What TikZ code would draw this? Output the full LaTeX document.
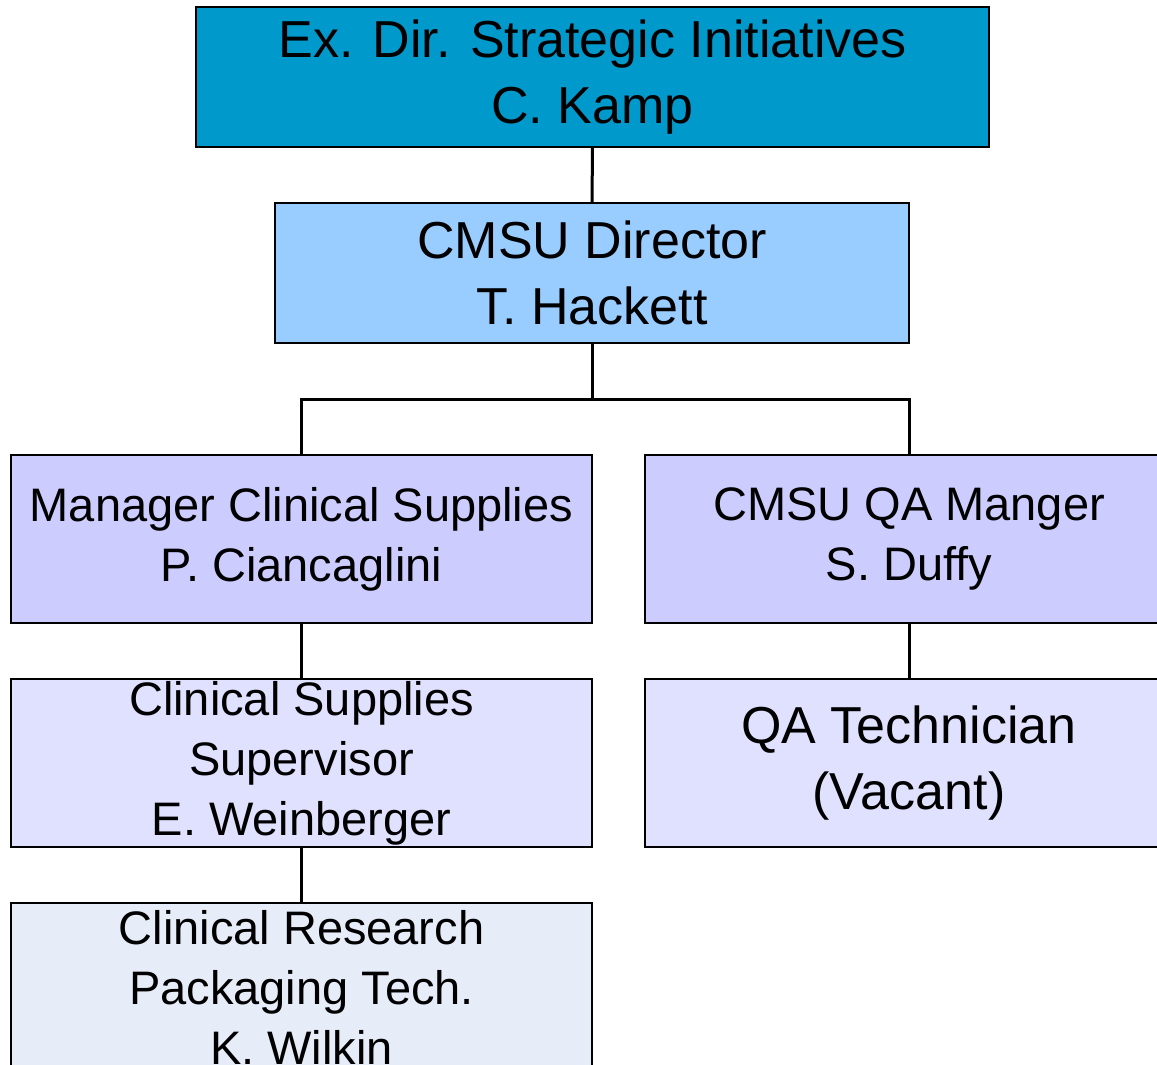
\documentclass[tikz,border=0pt]{standalone}
\usepackage{fontspec}
\setmainfont{Liberation Sans}
\definecolor{ctop}{HTML}{0099CC}
\definecolor{cdir}{HTML}{99CCFF}
\definecolor{cmgr}{HTML}{CCCCFF}
\definecolor{csup}{HTML}{E0E0FF}
\definecolor{cres}{HTML}{E6ECF8}
\tikzset{
  box/.style={draw=black, line width=1.2pt, align=center, inner sep=0pt},
  link/.style={line width=3pt},
  big/.style={font=\fontsize{52}{66}\selectfont},
  mid/.style={font=\fontsize{47}{60}\selectfont},
}
\begin{document}
\begin{tikzpicture}[x=1pt,y=-1pt]
\useasboundingbox (0,0) rectangle (1157,1065);
\clip (0,0) rectangle (1157,1065);
\node[box, big, fill=ctop, minimum width=793pt, minimum height=140pt] (top) at (592.5,77) {Ex. Dir. Strategic Initiatives\\C. Kamp};
\node[box, big, fill=cdir, minimum width=634pt, minimum height=140pt] (dir) at (592,273) {CMSU Director\\T. Hackett};
\node[box, mid, fill=cmgr, minimum width=581pt, minimum height=168pt] (mgr) at (301.5,539) {Manager Clinical Supplies\\P. Ciancaglini};
\node[box, mid, fill=cmgr, minimum width=528pt, minimum height=168pt] (qam) at (909,539) {CMSU QA Manger\\S. Duffy};
\node[box, mid, fill=csup, minimum width=581pt, minimum height=168pt] (sup) at (301.5,763) {Clinical Supplies\\Supervisor\\E. Weinberger};
\node[box, big, fill=csup, minimum width=528pt, minimum height=168pt] (qat) at (909,763) {QA Technician\\(Vacant)};
\node[box, mid, fill=cres, minimum width=581pt, minimum height=168pt] (res) at (301.5,987) {Clinical Research\\Packaging Tech.\\K. Wilkin};
\coordinate (bus) at (592,399);
\draw[link] (top.south) -- (dir.north);
\draw[link] (dir.south) -- (bus) -| (mgr.north);
\draw[link] (bus) -| (qam.north);
\draw[link] (mgr.south) -- (sup.north);
\draw[link] (qam.south) -- (qat.north);
\draw[link] (sup.south) -- (res.north);
\end{tikzpicture}
\end{document}
